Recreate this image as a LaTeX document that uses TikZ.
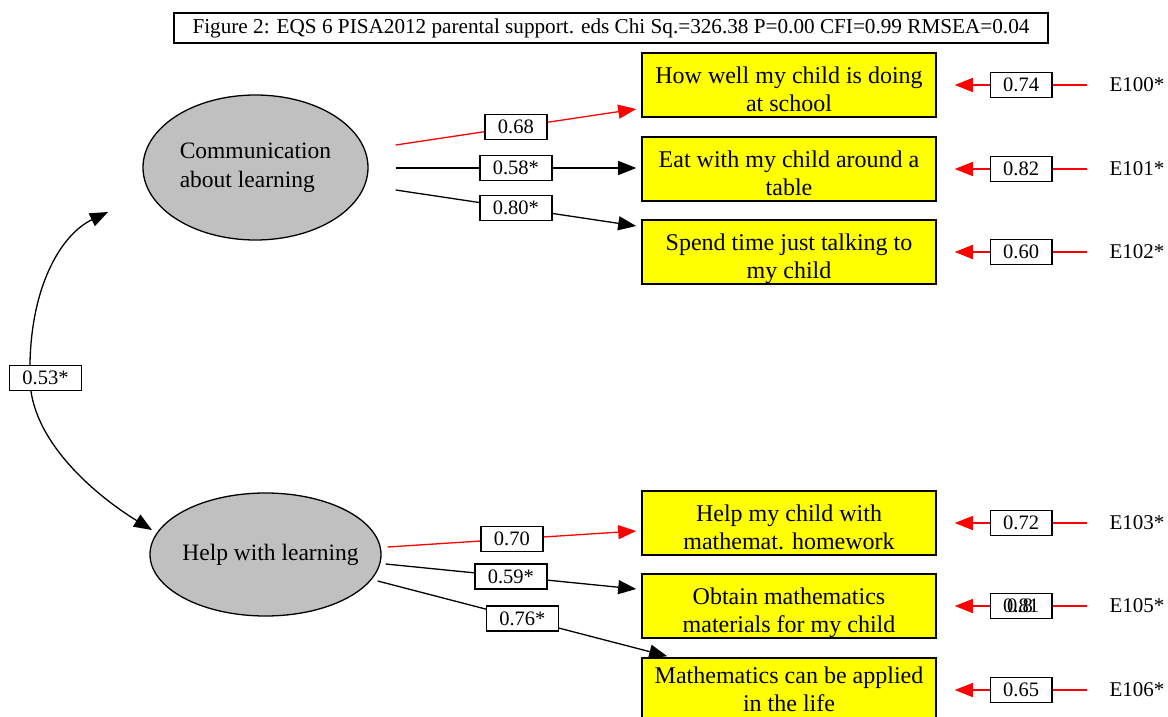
\documentclass[tikz,border=0pt]{standalone}
\usepackage{fontspec}
\setmainfont{Liberation Serif}
\usetikzlibrary{arrows.meta,calc,shapes.geometric}
\definecolor{latgray}{RGB}{192,192,192}
\definecolor{itemyellow}{RGB}{255,255,0}
\begin{document}
\begin{tikzpicture}[x=1pt,y=-1pt,
  tip/.style={-{Triangle[length=18pt,width=14pt]}},
  latent/.style={ellipse, draw, line width=1.3pt, fill=latgray, inner sep=-20pt,
    align=left, font=\fontsize{23.5}{29}\selectfont},
  indicator/.style={rectangle, draw, line width=1.6pt, fill=itemyellow,
    minimum width=294pt, minimum height=64pt, inner sep=0pt, align=center,
    text height=57pt, text depth=4pt,
    font=\fontsize{24}{28}\selectfont},
  coef/.style={rectangle, draw=black, text=black, line width=1.3pt, fill=white,
    inner xsep=13pt, inner ysep=0pt, minimum height=25pt,
    font=\fontsize{20.5}{24}\selectfont},
  errname/.style={inner sep=0pt, font=\fontsize{21}{24}\selectfont},
  load/.style={line width=1.3pt, tip},
  loadred/.style={load, red},
  errpath/.style={line width=1.3pt, red, tip},
  cov/.style={line width=1.3pt, {Triangle[length=18pt,width=14pt]}-{Triangle[length=18pt,width=14pt]}},
]
\useasboundingbox (0,0) rectangle (1168,717);
\clip (0,0) rectangle (1168,717);

% heading
\node[draw, line width=1.3pt, minimum width=874pt, minimum height=30pt, inner sep=0pt,
  font=\fontsize{21.2}{24}\selectfont] (title) at (611,28)
  {Figure 2: EQS 6 PISA2012 parental support. eds Chi Sq.=326.38 P=0.00 CFI=0.99 RMSEA=0.04};

% latent factors
\node[latent, minimum width=225pt, minimum height=145pt] (f1) at (255.5,167.5)
  {Communication\\about learning};
\node[latent, minimum width=231pt, minimum height=123pt] (f2) at (265.5,554.5)
  {\hspace*{10pt}Help with learning};

% observed items
\node[indicator] (b1) at (789,85)  {How well my child is doing\\at school};
\node[indicator] (b2) at (789,169) {Eat with my child around a\\table};
\node[indicator] (b3) at (789,252) {Spend time just talking to\\my child};
\node[indicator] (b4) at (789,523) {Help my child with\\mathemat. homework};
\node[indicator] (b5) at (789,606) {Obtain mathematics\\materials for my child};
\node[indicator, text height=46pt] (b6) at (789,690) {Mathematics can be applied\\in the life};

% error terms
\node[errname] (e0) at (1137,85)  {E100*};
\node[errname] (e1) at (1137,169) {E101*};
\node[errname] (e2) at (1137,252) {E102*};
\node[errname] (e3) at (1137,523) {E103*};
\node[errname] (e5) at (1137,606) {E105*};
\node[errname] (e6) at (1137,690) {E106*};

% factor loadings
\draw[loadred] ($(f1.east)+(27,-22.5)$) -- node[coef]{0.68}  ($(b1.west)+(-5,24)$);
\draw[load]    ($(f1.east)+(27,0.5)$)   -- node[coef]{0.58*} ($(b2.west)+(-5,-1)$);
\draw[load]    ($(f1.east)+(27,22.5)$)  -- node[coef]{0.80*} ($(b3.west)+(-5,-26)$);
\draw[loadred] ($(f2.east)+(6,-7.5)$)   -- node[coef]{0.70}  ($(b4.west)+(-5,8)$);
\draw[load]    ($(f2.east)+(4,9.5)$)    -- node[coef]{0.59*} ($(b5.west)+(-5,-17)$);
\draw[load]    ($(f2.east)+(-4,26.5)$)  -- node[coef]{0.76*} ($(b6.north west)+(26,-1)$);

% error paths
\foreach \e/\b/\v in {e0/b1/0.74, e1/b2/0.82, e2/b3/0.60, e3/b4/0.72, e6/b6/0.65}{
  \draw[errpath] ($(\e.west)+(-22,0)$) -- node[coef]{\v} ($(\b.east)+(18,0)$);
}
\draw[errpath] ($(e5.west)+(-22,0)$) -- node[coef] (r5) {0.81} ($(b5.east)+(18,0)$);
\node[inner sep=0pt, font=\fontsize{20.5}{24}\selectfont, anchor=base west]
  (r5b) at ($(r5.base west)+(17.5,0)$) {0.8};

% factor covariance
\coordinate (k1) at ($(f1.center)+(-147.5,44.5)$);
\coordinate (k2) at ($(f2.center)+(-113.5,-24.5)$);
\draw[cov] (k1) .. controls (60,235) and (28,290) .. (30,378)
  node[coef, xshift=15.5pt] (r12) {0.53*}
  .. controls (30,440) and (95,495) .. (k2);
\end{tikzpicture}
\end{document}
